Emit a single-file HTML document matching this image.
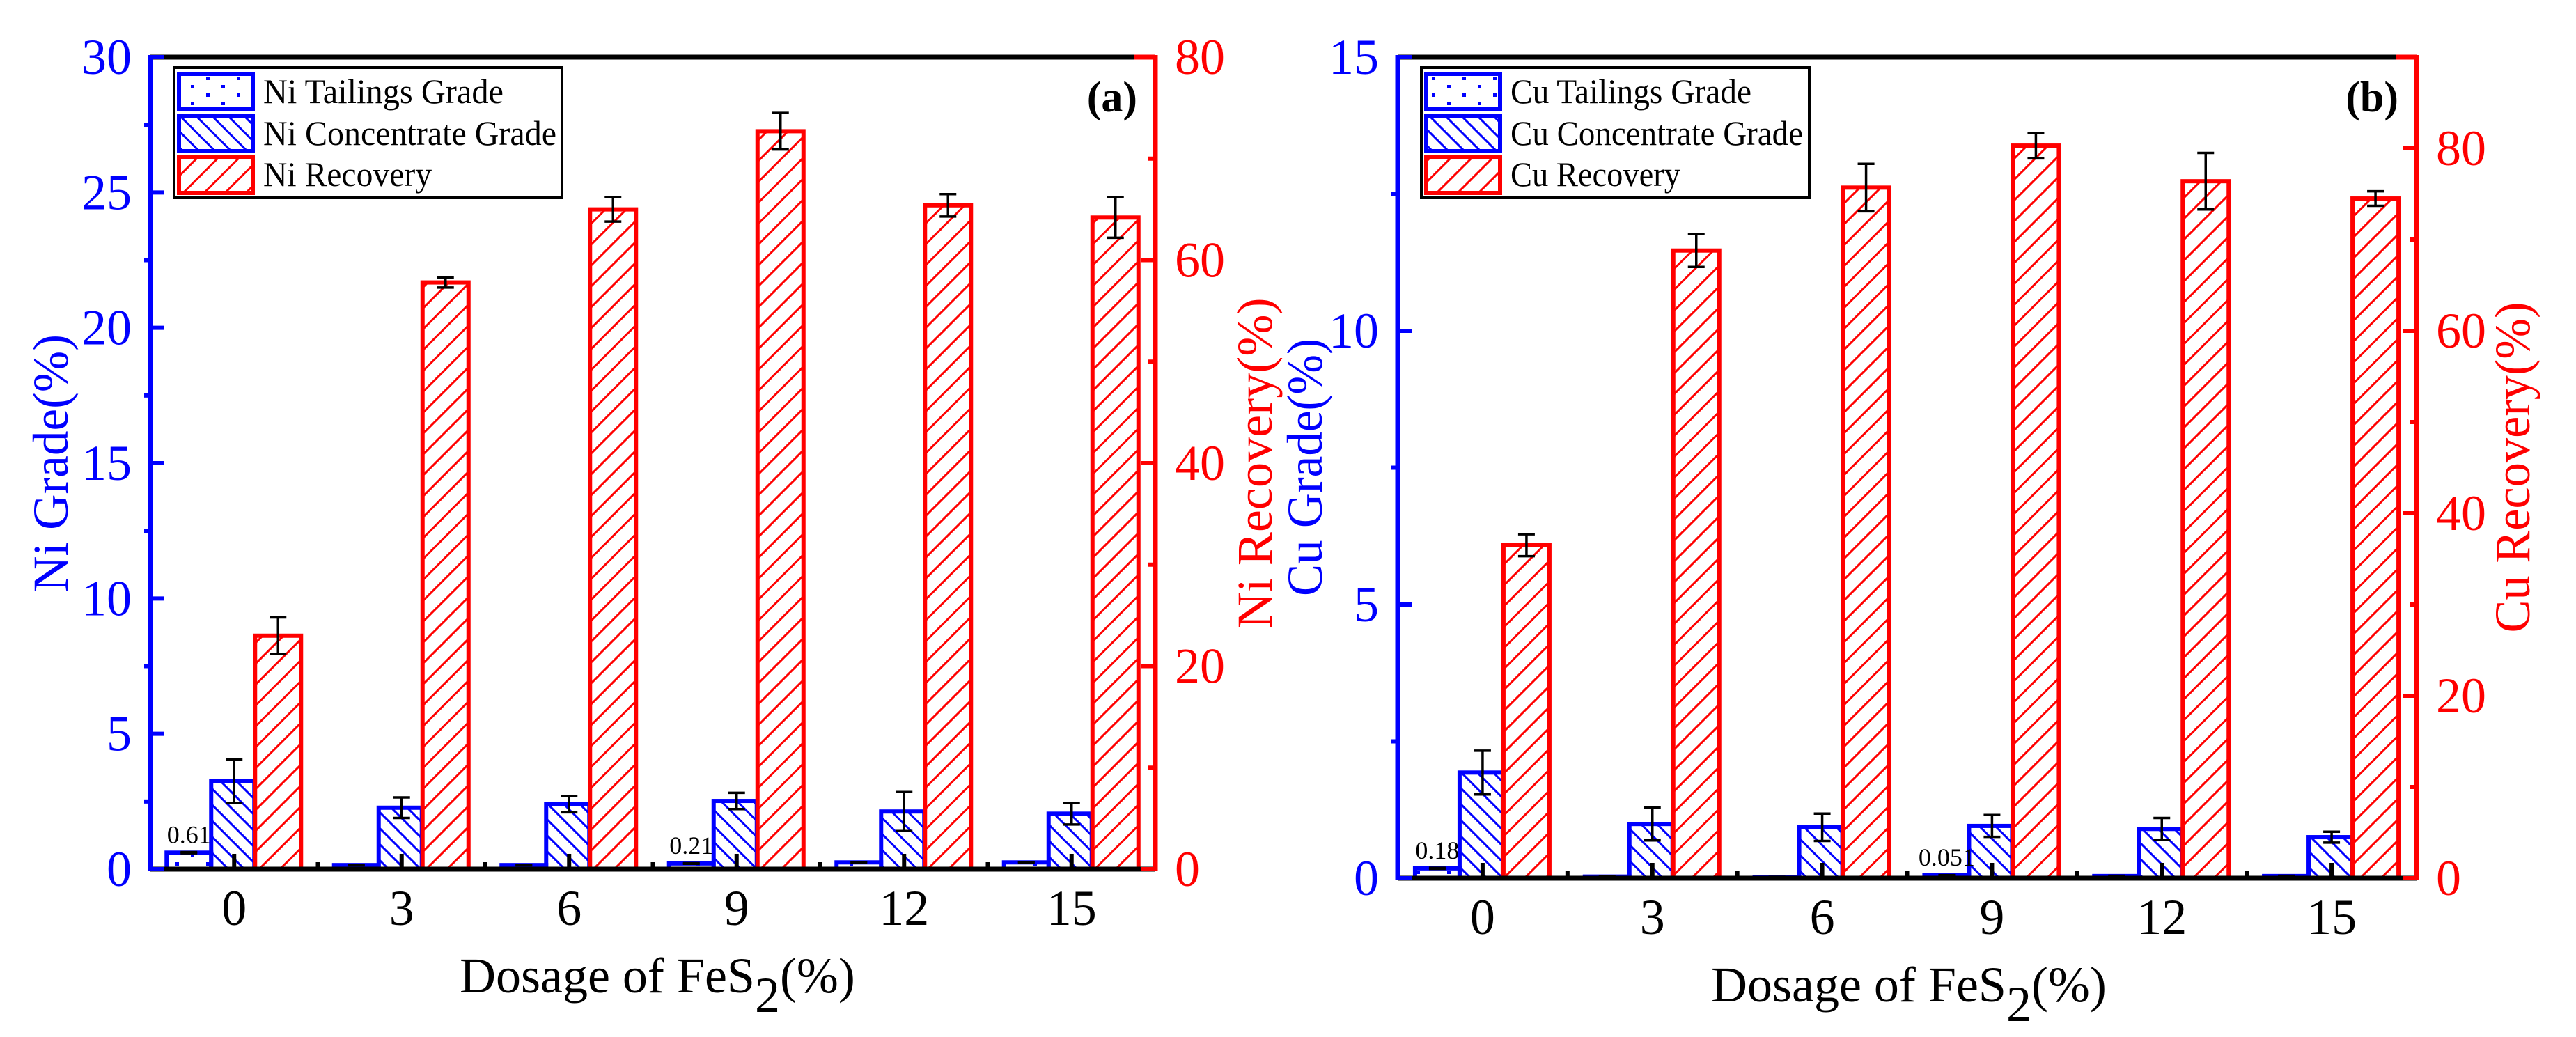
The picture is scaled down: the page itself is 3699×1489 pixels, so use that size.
<!DOCTYPE html>
<html><head><meta charset="utf-8"><style>
html,body{margin:0;padding:0;background:#fff;}
svg{display:block;font-family:"Liberation Serif",serif;}
</style></head><body>
<svg id="chart" width="3699" height="1489" viewBox="0 0 3699 1489" xmlns="http://www.w3.org/2000/svg">
<defs>
<pattern id="hatchBlue" patternUnits="userSpaceOnUse" width="23" height="23">
<path d="M-6,-6 L29,29 M-6,17 L6,29 M17,-6 L29,6" stroke="#0000ff" stroke-width="3" fill="none"/>
</pattern>
<pattern id="hatchRed" patternUnits="userSpaceOnUse" width="30" height="30">
<path d="M-6,36 L36,-6 M-6,6 L6,-6 M24,36 L36,24" stroke="#ff0000" stroke-width="3" fill="none"/>
</pattern>
<pattern id="dotsBlue" patternUnits="userSpaceOnUse" width="44" height="24">
<rect x="10" y="2" width="5" height="5" fill="#0000ff"/><rect x="32" y="14" width="5" height="5" fill="#0000ff"/>
</pattern>
</defs>
<g id="layer"></g>
</svg>
<script>
// ---- data ----
const categories = ["0","3","6","9","12","15"];
const niTailings = [0.61, 0.15, 0.15, 0.21, 0.25, 0.25];
const niTailingsErr = [0.02, 0.01, 0.01, 0.01, 0.01, 0.01];
const niConc = [3.25, 2.27, 2.4, 2.52, 2.13, 2.05];
const niConcErr = [0.8, 0.38, 0.3, 0.3, 0.72, 0.4];
const niRec = [23.0, 57.8, 65.0, 72.7, 65.4, 64.2];
const niRecErr = [1.8, 0.5, 1.2, 1.8, 1.1, 2.0];
const niLeftTicks = [0,5,10,15,20,25,30];
const niRightTicks = [0,20,40,60,80];
const niTailLabels = ["0.61","","","0.21","",""];

const cuTailings = [0.18, 0.03, 0.02, 0.051, 0.04, 0.04];
const cuTailingsErr = [0.01, 0.005, 0.005, 0.005, 0.005, 0.005];
const cuConc = [1.93, 0.99, 0.93, 0.955, 0.9, 0.75];
const cuConcErr = [0.4, 0.3, 0.25, 0.2, 0.2, 0.1];
const cuRec = [36.5, 68.8, 75.7, 80.3, 76.4, 74.5];
const cuRecErr = [1.2, 1.8, 2.6, 1.4, 3.1, 0.8];
const cuLeftTicks = [0,5,10,15];
const cuRightTicks = [0,20,40,60,80];
const cuTailLabels = ["0.18","","","0.051","",""];

const NS = "http://www.w3.org/2000/svg";
const layer = document.getElementById('layer');
function el(tag, attrs, parent){
  const e = document.createElementNS(NS, tag);
  for (const k in attrs) e.setAttribute(k, attrs[k]);
  (parent||layer).appendChild(e);
  return e;
}

function panel(p){
  const g = el('g', {});
  
  
  const W = p.right - p.left;
  const xc = i => p.left + (i + 0.5) * W / p.cats.length;
  const yL = v => p.bottom - (v - 0) / p.leftMax * (p.bottom - p.top);
  const yR = v => p.bottom - (v - 0) / p.rightMax * (p.bottom - p.top);
  const bw = 64;
  p.cats.forEach((c, i) => {
    const cx = xc(i);
    const t = el('rect', {x: cx-97, y: yL(p.tail[i]), width: bw, height: p.bottom - yL(p.tail[i]), fill: 'url(#dotsBlue)', stroke: '#0000ff', 'stroke-width': 6}, g);
    
    
    const cb = el('rect', {x: cx-33, y: yL(p.conc[i]), width: bw-2, height: p.bottom - yL(p.conc[i]), fill: 'url(#hatchBlue)', stroke: '#0000ff', 'stroke-width': 6}, g);
    
    
    const rb = el('rect', {x: cx+30, y: yR(p.rec[i]), width: bw+2, height: p.bottom - yR(p.rec[i]), fill: 'url(#hatchRed)', stroke: '#ff0000', 'stroke-width': 6}, g);
    
    
    const errs = [[cx-65, yL(p.tail[i]+p.tailErr[i]), yL(p.tail[i]-p.tailErr[i])],
                  [cx, yL(p.conc[i]+p.concErr[i]), yL(p.conc[i]-p.concErr[i])],
                  [cx+63, yR(p.rec[i]+p.recErr[i]), yR(p.rec[i]-p.recErr[i])]];
    errs.forEach((e) => {
      const eg = el('g', {stroke: '#000', 'stroke-width': 3.5}, g);
      
      
      el('line', {x1: e[0], x2: e[0], y1: e[1], y2: e[2]}, eg);
      el('line', {x1: e[0]-12, x2: e[0]+12, y1: e[1], y2: e[1]}, eg);
      el('line', {x1: e[0]-12, x2: e[0]+12, y1: e[2], y2: e[2]}, eg);
    });
    if (p.tailLabels[i]) {
      const tl = el('text', {x: cx-65, y: yL(p.tail[i]) - 14, 'font-size': 36, 'text-anchor': 'middle', fill: '#000'}, g);
      tl.textContent = p.tailLabels[i];
      
      
    }
    el('line', {x1: cx, x2: cx, y1: p.bottom, y2: p.bottom-22, stroke: '#000', 'stroke-width': 6}, g);
    if (i > 0) { const mx = (xc(i)+xc(i-1))/2; el('line', {x1: mx, x2: mx, y1: p.bottom, y2: p.bottom-10, stroke: '#000', 'stroke-width': 6}, g); }
    const xl = el('text', {x: cx, y: p.bottom + 80, 'font-size': 72, 'text-anchor': 'middle', fill: '#000'}, g);
    xl.textContent = c;
    
    
  });
  el('line', {x1: p.left, x2: p.right, y1: p.top, y2: p.top, stroke: '#000', 'stroke-width': 7}, g);
  const xa = el('line', {x1: p.left, x2: p.right, y1: p.bottom, y2: p.bottom, stroke: '#000', 'stroke-width': 7}, g);
  
  
  const la = el('line', {x1: p.left, x2: p.left, y1: p.top-3, y2: p.bottom+3, stroke: '#0000ff', 'stroke-width': 7}, g);
  
  
  const ra = el('line', {x1: p.right, x2: p.right, y1: p.top-3, y2: p.bottom+3, stroke: '#ff0000', 'stroke-width': 7}, g);
  
  
  el('line', {x1: p.right-30, x2: p.right, y1: p.top, y2: p.top, stroke: '#ff0000', 'stroke-width': 7}, g);
  p.leftTicks.forEach((v, k) => {
    const y = yL(v);
    el('line', {x1: p.left, x2: p.left+20, y1: y, y2: y, stroke: '#0000ff', 'stroke-width': 6}, g);
    if (k > 0) { const ym = yL(v - p.leftStep/2); el('line', {x1: p.left-9, x2: p.left, y1: ym, y2: ym, stroke: '#0000ff', 'stroke-width': 6}, g); }
    const t = el('text', {x: p.left - 27, y: y + 24, 'font-size': 72, 'text-anchor': 'end', fill: '#0000ff'}, g);
    t.textContent = v;
    
    
  });
  p.rightTicks.forEach((v) => {
    const y = yR(v);
    el('line', {x1: p.right-20, x2: p.right, y1: y, y2: y, stroke: '#ff0000', 'stroke-width': 6}, g);
    const ym = yR(v + 10);
    if (v + 10 <= p.rightMax) el('line', {x1: p.right-10, x2: p.right, y1: ym, y2: ym, stroke: '#ff0000', 'stroke-width': 6}, g);
    const t = el('text', {x: p.right + 28, y: y + 24, 'font-size': 72, 'text-anchor': 'start', fill: '#ff0000'}, g);
    t.textContent = v;
    
    
  });
  const lt = el('text', {x: 0, y: 0, 'font-size': 72, 'text-anchor': 'middle', fill: '#0000ff', transform: `translate(${p.leftTitleX},${p.titleY}) rotate(-90)`, textLength: 370, lengthAdjust: 'spacingAndGlyphs'}, g);
  lt.textContent = p.leftTitle;
  
  
  const rt = el('text', {x: 0, y: 0, 'font-size': 72, 'text-anchor': 'middle', fill: '#ff0000', transform: `translate(${p.rightTitleX},${p.titleY}) rotate(-90)`, textLength: 475, lengthAdjust: 'spacingAndGlyphs'}, g);
  rt.textContent = p.rightTitle;
  
  
  const xt = el('text', {x: p.xTitleX, y: p.bottom + 177, 'font-size': 72, fill: '#000'}, g);
  
  
  xt.innerHTML = 'Dosage of FeS<tspan dy="28">2</tspan><tspan dy="-28">(%)</tspan>';
  const pl = el('text', {x: p.right - 26, y: 160, 'font-size': 62, 'font-weight': 'bold', 'text-anchor': 'end', fill: '#000'}, g);
  pl.textContent = p.label;
  
  
  const lg = el('g', {}, g);
  
  
  const L = p.legX;
  el('rect', {x: L, y: 97, width: 557, height: 187, fill: '#fff', stroke: '#000', 'stroke-width': 4}, lg);
  const rows = [[103, 'url(#dotsBlue)', '#0000ff', p.legNames[0], 148, p.legW[0]],
                [163, 'url(#hatchBlue)', '#0000ff', p.legNames[1], 208, p.legW[1]],
                [223, 'url(#hatchRed)', '#ff0000', p.legNames[2], 267, p.legW[2]]];
  rows.forEach(r => {
    el('rect', {x: L+7, y: r[0]+3, width: 106, height: 51, fill: r[1], stroke: r[2], 'stroke-width': 6}, lg);
    const t = el('text', {x: L+128, y: r[4], 'font-size': 50, fill: '#000', textLength: r[5], lengthAdjust: 'spacingAndGlyphs'}, lg);
    t.textContent = r[3];
    
    
  });
}

panel({name: 'panel-a-nickel', left: 216, right: 1659, top: 82, bottom: 1248, cats: categories,
  tail: niTailings, tailErr: niTailingsErr, conc: niConc, concErr: niConcErr, rec: niRec, recErr: niRecErr,
  leftMax: 30, leftStep: 5, rightMax: 80, leftTicks: niLeftTicks, rightTicks: niRightTicks, tailLabels: niTailLabels,
  leftTitle: 'Ni Grade(%)', rightTitle: 'Ni Recovery(%)', leftTitleX: 97, rightTitleX: 1826, titleY: 665,
  xTitleX: 660, label: '(a)', legX: 250, legW: [345, 421, 242], legNames: ['Ni Tailings Grade','Ni Concentrate Grade','Ni Recovery']});

panel({name: 'panel-b-copper', left: 2007, right: 3470, top: 82, bottom: 1261, cats: categories,
  tail: cuTailings, tailErr: cuTailingsErr, conc: cuConc, concErr: cuConcErr, rec: cuRec, recErr: cuRecErr,
  leftMax: 15, leftStep: 5, rightMax: 90, leftTicks: cuLeftTicks, rightTicks: cuRightTicks, tailLabels: cuTailLabels,
  leftTitle: 'Cu Grade(%)', rightTitle: 'Cu Recovery(%)', leftTitleX: 1898, rightTitleX: 3632, titleY: 671,
  xTitleX: 2457, label: '(b)', legX: 2041, legW: [346, 420, 244], legNames: ['Cu Tailings Grade','Cu Concentrate Grade','Cu Recovery']});
</script>
</body></html>
